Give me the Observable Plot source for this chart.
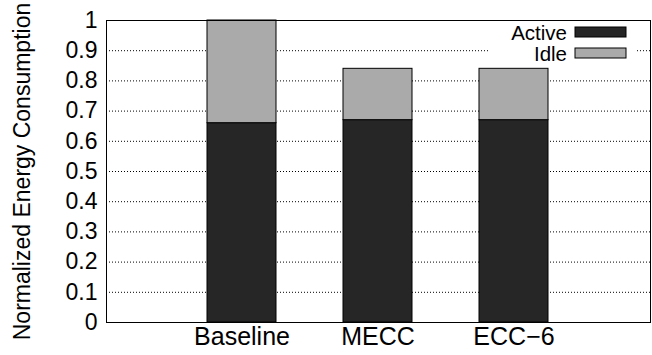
<!DOCTYPE html>
<html>
<head>
<meta charset="utf-8">
<script src="https://cdn.jsdelivr.net/npm/d3@7"></script>
<script src="https://cdn.jsdelivr.net/npm/@observablehq/plot@0.6"></script>
<style>
  html, body { margin: 0; padding: 0; background: #fff; }
  #chart svg { display: block; }
</style>
</head>
<body>
<div id="chart"></div>
<script>
const categories = ["Baseline", "MECC", "ECC\u22126"];
const activeValues = [0.66, 0.67, 0.67];
const idleValues = [0.34, 0.17, 0.17];
const seriesNames = ["Active", "Idle"];
const seriesColors = ["#262626", "#aaaaaa"];
const yTicks = [0, 0.1, 0.2, 0.3, 0.4, 0.5, 0.6, 0.7, 0.8, 0.9, 1];
const yTickLabels = ["0", "0.1", "0.2", "0.3", "0.4", "0.5", "0.6", "0.7", "0.8", "0.9", "1"];
const gridTicks = [0.1, 0.2, 0.3, 0.4, 0.5, 0.6, 0.7, 0.8, 0.9];
const yTitle = "Normalized Energy Consumption";

const rows = [];
categories.forEach((c, i) => rows.push({category: c, series: "Active", value: activeValues[i]}));
categories.forEach((c, i) => rows.push({category: c, series: "Idle", value: idleValues[i]}));

const font = "'Liberation Sans', Arial, Helvetica, sans-serif";

function legendMark(index, scales, values, dimensions) {
  const g = d3.create("svg:g");
  const right = dimensions.width - dimensions.marginRight;
  const top = dimensions.marginTop;
  g.append("rect")
    .attr("x", right - 160).attr("y", top + 1)
    .attr("width", 147).attr("height", 42)
    .attr("fill", "white");
  seriesNames.forEach((name, i) => {
    const cy = top + 12 + i * 21;
    g.append("rect")
      .attr("x", right - 75).attr("y", cy - 5)
      .attr("width", 51).attr("height", 10)
      .attr("fill", scales.color(name))
      .attr("stroke", "black").attr("stroke-width", 1);
    g.append("text")
      .attr("x", right - 83).attr("y", cy + 7.5)
      .attr("text-anchor", "end")
      .attr("font-family", font)
      .attr("font-size", 20.5)
      .attr("fill", "black")
      .text(name);
  });
  return g.node();
}

const chart = Plot.plot({
  width: 652,
  height: 355,
  marginLeft: 106,
  marginRight: 2,
  marginTop: 20,
  marginBottom: 33,
  style: {fontFamily: font, background: "white", color: "black"},
  x: {domain: categories, paddingInner: 0.49, paddingOuter: 0.745},
  y: {domain: [0, 1]},
  color: {domain: seriesNames, range: seriesColors},
  marks: [
    Plot.ruleY(gridTicks, {stroke: "black", strokeWidth: 1, strokeDasharray: "1,2"}),
    Plot.barY(rows, Plot.stackY({x: "category", y: "value", fill: "series", stroke: "black", strokeWidth: 1, inset: 0})),
    Plot.axisY({ticks: yTicks, tickFormat: (d) => yTickLabels[yTicks.indexOf(d)], tickSize: 0, tickPadding: 9, fontSize: 23, label: null}),
    Plot.axisX({tickSize: 0, tickPadding: 5, fontSize: 25, label: null}),
    Plot.text([yTitle], {frameAnchor: "left", text: d => d, rotate: -90, dx: -84, fontSize: 23, lineAnchor: "middle", textAnchor: "middle", fill: "black"}),
    legendMark,
    Plot.frame({stroke: "black", strokeWidth: 1})
  ]
});
document.getElementById("chart").appendChild(chart);
</script>
</body>
</html>
